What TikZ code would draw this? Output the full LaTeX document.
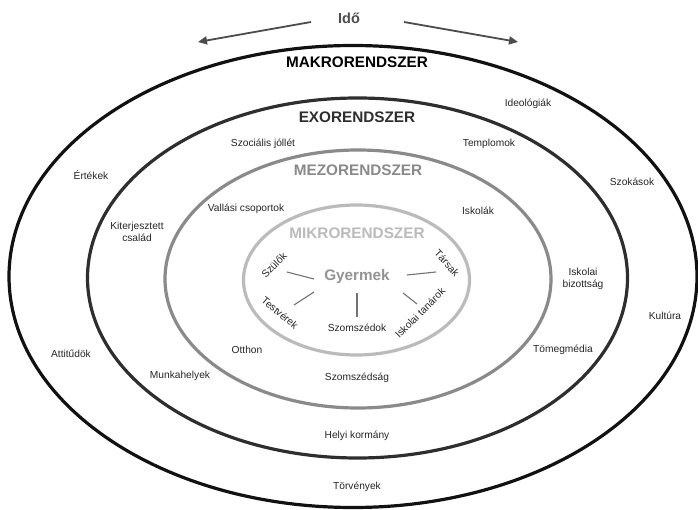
\documentclass[tikz,border=0pt]{standalone}
\usepackage{fontspec}
\setmainfont{Liberation Sans}
\usetikzlibrary{arrows.meta}
\definecolor{ringmakro}{HTML}{111111}
\definecolor{ringexo}{HTML}{2E2E2E}
\definecolor{ringmezo}{HTML}{8A8A8A}
\definecolor{ringmikro}{HTML}{BBBBBB}
\begin{document}
\begin{tikzpicture}[x=1pt,y=-1pt,
  ring/.style={line width=3.2pt},
  title/.style={font=\fontsize{15.3}{17}\selectfont\bfseries, inner sep=0pt},
  lbl/.style={font=\fontsize{10.2}{11.5}\selectfont, text=black!85, inner sep=0pt, align=center},
  spoke/.style={draw=black!55, line width=1.1pt},
  timearrow/.style={draw=black!70, line width=1.8pt, -{Triangle[length=9pt,width=8pt]}}]
\useasboundingbox (0,0) rectangle (698,510);
\fill[white] (0,0) rectangle (698,510);

% nested system rings
\draw[ring, ringmakro] (353,276.5) ellipse [x radius=344, y radius=231];
\draw[ring, ringexo]   (357.5,278) ellipse [x radius=270, y radius=180];
\draw[ring, ringmezo]  (358,279)   ellipse [x radius=193, y radius=129];
\draw[ring, ringmikro] (356.5,280) ellipse [x radius=113, y radius=75];

% time indicator
\node[title, text=black!70, font=\fontsize{14.5}{16}\selectfont\bfseries] (ido) at (349,18) {Idő};
\coordinate (tlA) at (311,22);
\coordinate (tlB) at (198,42);
\coordinate (trA) at (404,22);
\coordinate (trB) at (518,42);
\draw[timearrow] (tlA) -- (tlB);
\draw[timearrow] (trA) -- (trB);

% ring titles
\node[title, text=black]     (makro) at (357,62)  {MAKRORENDSZER};
\node[title, text=ringexo]   (exo)   at (357,117) {EXORENDSZER};
\node[title, text=ringmezo]  (mezo)  at (358,170) {MEZORENDSZER};
\node[title, text=ringmikro] (mikro) at (357,233) {MIKRORENDSZER};

% child at the centre
\node[title, text=black!42] (gyermek) at (357,277) {Gyermek};

% microsystem
\node[lbl, rotate=45]  (szulok)   at (274,265) {Szülők};
\node[lbl, rotate=-48] (tarsak)   at (447,263) {Társak};
\node[lbl, rotate=-40] (testverek) at (280,313) {Testvérek};
\node[lbl]             (szomszedok) at (357,328) {Szomszédok};
\node[lbl, rotate=45]  (tanarok)  at (420,313) {Iskolai tanárok};

\coordinate (sA) at (287,272);  \coordinate (sB) at (314,279);
\coordinate (tA) at (407,275);  \coordinate (tB) at (436,272);
\coordinate (vA) at (294,305);  \coordinate (vB) at (314,292);
\coordinate (nA) at (357,293);  \coordinate (nB) at (357,317);
\coordinate (iA) at (403,293);  \coordinate (iB) at (417,304);
\draw[spoke] (sA) -- (sB);
\draw[spoke] (tA) -- (tB);
\draw[spoke] (vA) -- (vB);
\draw[spoke] (nA) -- (nB);
\draw[spoke] (iA) -- (iB);

% mesosystem
\node[lbl] (vallasi)  at (246,209) {Vallási csoportok};
\node[lbl] (iskolak)  at (478,211) {Iskolák};
\node[lbl] (otthon)   at (247,350) {Otthon};
\node[lbl] (szomszedsag) at (357,378) {Szomszédság};

% exosystem
\node[lbl] (szocialis) at (263,144) {Szociális jóllét};
\node[lbl] (templomok) at (489,144) {Templomok};
\node[lbl] (kiterj)    at (137,232) {Kiterjesztett\\család};
\node[lbl] (bizottsag) at (583,279) {Iskolai\\bizottság};
\node[lbl] (munka)     at (180,376) {Munkahelyek};
\node[lbl] (media)     at (563,350) {Tömegmédia};
\node[lbl] (helyi)     at (357,436) {Helyi kormány};

% macrosystem
\node[lbl] (ideologia) at (528,104) {Ideológiák};
\node[lbl] (ertekek)   at (91,175)  {Értékek};
\node[lbl] (szokasok)  at (632,182) {Szokások};
\node[lbl] (kultura)   at (665,316) {Kultúra};
\node[lbl] (attitud)   at (71,354)  {Attitűdök};
\node[lbl] (torveny)   at (357,487) {Törvények};
\end{tikzpicture}
\end{document}
